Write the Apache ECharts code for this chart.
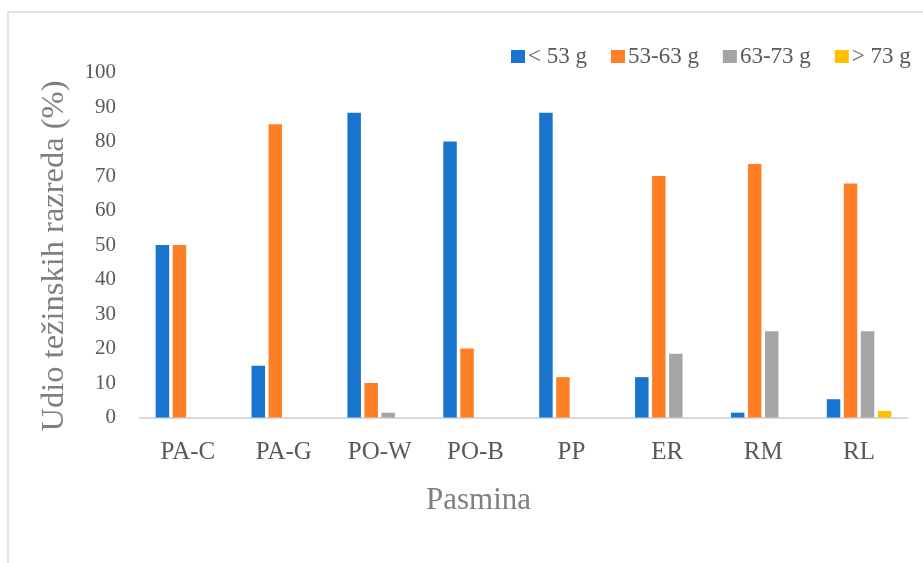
<!DOCTYPE html>
<html>
<head>
<meta charset="utf-8">
<script src="https://cdn.jsdelivr.net/npm/echarts@6/dist/echarts.min.js"></script>
<style>
html,body{margin:0;padding:0;background:#fff;}
#chart{width:923px;height:563px;}
</style>
</head>
<body>
<div id="chart"></div>
<script>
const categories = ['PA-C', 'PA-G', 'PO-W', 'PO-B', 'PP', 'ER', 'RM', 'RL'];
const seriesNames = ['< 53 g', '53-63 g', '63-73 g', '> 73 g'];
const under53 = [50, 15, 88.3, 80, 88.3, 11.7, 1.4, 5.3];
const from53to63 = [50, 85, 10, 20, 11.7, 70, 73.5, 67.8];
const from63to73 = [0, 0, 1.4, 0, 0, 18.5, 25, 25];
const over73 = [0, 0, 0, 0, 0, 0, 0, 1.9];
const yTicks = { min: 0, max: 100, interval: 10 };
const yTitle = 'Udio težinskih razreda (%)';
const xTitle = 'Pasmina';

const colors = ['#1874CD', '#FF7F27', '#A5A5A5', '#FFC000'];
const values = [under53, from53to63, from63to73, over73];
const FONT = 'Liberation Serif';
const TXT = '#595959';

const chart = echarts.init(document.getElementById('chart'));
chart.setOption({
  animation: false,
  backgroundColor: '#fff',
  graphic: [{
    type: 'rect',
    shape: { x: 8, y: 12, width: 1000, height: 700 },
    style: { fill: 'none', stroke: '#D9D9D9', lineWidth: 1.5 },
    silent: true, z: -1
  }, {
    type: 'text',
    x: 54, y: 256,
    rotation: Math.PI / 2,
    style: {
      text: yTitle,
      fontFamily: FONT, fontSize: 32.5, fill: '#7F7F7F',
      align: 'center', verticalAlign: 'middle'
    },
    silent: true
  }],
  legend: {
    left: 506, top: 40,
    itemWidth: 14, itemHeight: 13, itemGap: 24,
    icon: 'rect',
    textStyle: { fontFamily: FONT, fontSize: 23, color: TXT, padding: [0, 0, 0, -2] },
    data: seriesNames
  },
  grid: { left: 140, right: 16, top: 72.5, bottom: 145.5, containLabel: false },
  xAxis: {
    type: 'category',
    data: categories,
    name: xTitle,
    nameLocation: 'middle',
    nameGap: 68,
    nameTextStyle: { fontFamily: FONT, fontSize: 31, color: '#7F7F7F', padding: [0, 90, 0, 0] },
    axisLine: { lineStyle: { color: '#D9D9D9', width: 2 } },
    axisTick: { show: false },
    axisLabel: { fontFamily: FONT, fontSize: 25, color: TXT, margin: 22 }
  },
  yAxis: {
    type: 'value',
    min: yTicks.min, max: yTicks.max, interval: yTicks.interval,
    axisLine: { show: false },
    axisTick: { show: false },
    splitLine: { show: false },
    axisLabel: { fontFamily: FONT, fontSize: 21, color: TXT, margin: 24 }
  },
  series: seriesNames.map((n, i) => ({
    name: n,
    type: 'bar',
    data: values[i],
    barWidth: 13.5,
    barGap: '26%',
    itemStyle: { color: colors[i] }
  }))
});
</script>
</body>
</html>
